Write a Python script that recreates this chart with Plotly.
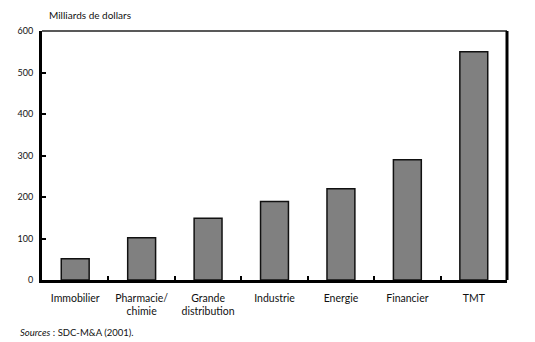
import plotly.graph_objects as go

# Fusions-acquisitions par secteur, en milliards de dollars
secteurs = ["Immobilier", "Pharmacie/<br>chimie", "Grande<br>distribution",
            "Industrie", "Energie", "Financier", "TMT"]
montants = [51, 102, 149, 189, 220, 290, 550]
y_ticks = [0, 100, 200, 300, 400, 500, 600]

FONT = "Lato, 'Open Sans', sans-serif"

fig = go.Figure(
    go.Bar(
        x=secteurs,
        y=montants,
        width=0.42,
        marker=dict(color="#808080", line=dict(color="#111111", width=1.5)),
    )
)

fig.update_layout(
    width=535,
    height=342,
    margin=dict(l=42, r=28, t=31, b=62),
    paper_bgcolor="white",
    plot_bgcolor="white",
    showlegend=False,
    font=dict(family=FONT, size=10, color="#111111"),
    xaxis=dict(
        type="category",
        range=[-0.5, 6.5],
        tickson="boundaries",
        ticks="inside",
        ticklen=4,
        tickwidth=2,
        tickcolor="#000000",
        showline=True,
        linecolor="#000000",
        linewidth=3,
        showgrid=False,
        ticklabelstandoff=6,
        tickfont=dict(family=FONT, size=10.5),
    ),
    yaxis=dict(
        range=[0, 600],
        tickvals=y_ticks,
        ticks="inside",
        ticklen=4,
        tickwidth=2,
        tickcolor="#000000",
        showline=True,
        linecolor="#000000",
        linewidth=3,
        showgrid=False,
        zeroline=False,
        ticklabelstandoff=4,
        tickfont=dict(family=FONT, size=9),
    ),
    shapes=[
        # top edge of the frame (thin)
        dict(type="line", xref="paper", yref="paper", x0=0, x1=1, y0=1, y1=1,
             line=dict(color="#222222", width=1.5)),
        # right edge of the frame (thick)
        dict(type="line", xref="paper", yref="paper", x0=1, x1=1, y0=0, y1=1,
             line=dict(color="#000000", width=3)),
    ],
    annotations=[
        dict(text="Milliards de dollars", xref="paper", yref="paper",
             x=0.01, y=1.0, yshift=16, xanchor="left", yanchor="middle",
             showarrow=False, font=dict(family=FONT, size=10)),
        dict(text="<i>Sources</i> : SDC-M&A (2001).", xref="paper", yref="paper",
             x=-0.052, y=0, yshift=-52, xanchor="left", yanchor="middle",
             showarrow=False, font=dict(family=FONT, size=9.5)),
    ],
)

fig.write_html("out.html")
